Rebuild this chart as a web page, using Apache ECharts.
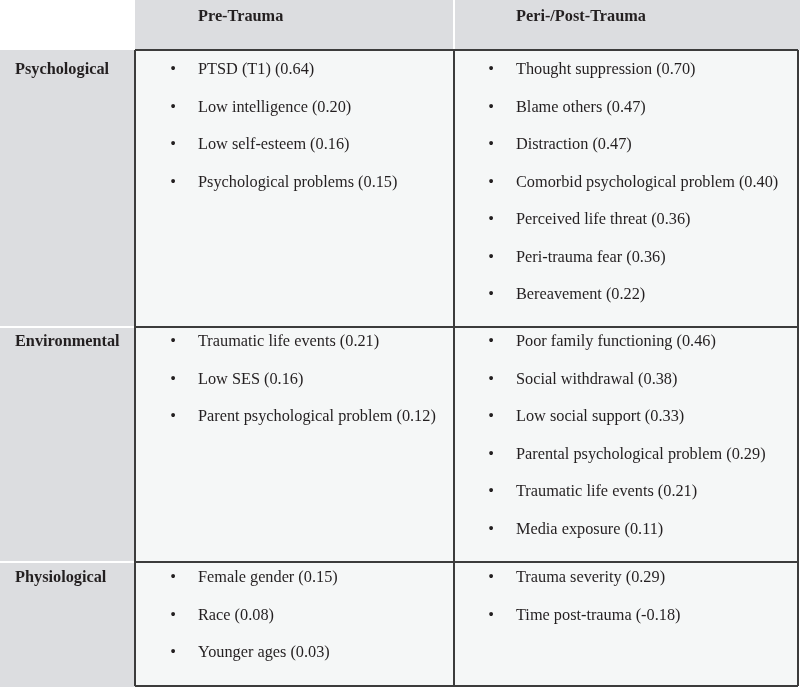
<!DOCTYPE html>
<html><head><meta charset="utf-8">
<script src="https://cdn.jsdelivr.net/npm/echarts@6/dist/echarts.min.js"></script>
<style>html,body{margin:0;padding:0;background:#fff}#c{width:800px;height:687px}</style>
</head><body><div id="c"></div>
<script>
// ---- data ----
const columnHeaders = ['Pre-Trauma', 'Peri-/Post-Trauma'];
const domains = ['Psychological', 'Environmental', 'Physiological'];

const prePsychological = [['PTSD (T1)', 0.64], ['Low intelligence', 0.20], ['Low self-esteem', 0.16], ['Psychological problems', 0.15]];
const periPsychological = [['Thought suppression', 0.70], ['Blame others', 0.47], ['Distraction', 0.47], ['Comorbid psychological problem', 0.40], ['Perceived life threat', 0.36], ['Peri-trauma fear', 0.36], ['Bereavement', 0.22]];
const preEnvironmental = [['Traumatic life events', 0.21], ['Low SES', 0.16], ['Parent psychological problem', 0.12]];
const periEnvironmental = [['Poor family functioning', 0.46], ['Social withdrawal', 0.38], ['Low social support', 0.33], ['Parental psychological problem', 0.29], ['Traumatic life events', 0.21], ['Media exposure', 0.11]];
const prePhysiological = [['Female gender', 0.15], ['Race', 0.08], ['Younger ages', 0.03]];
const periPhysiological = [['Trauma severity', 0.29], ['Time post-trauma', -0.18]];

const cells = [
  [prePsychological, periPsychological],
  [preEnvironmental, periEnvironmental],
  [prePhysiological, periPhysiological]
];

// ---- layout (pixel-space of a hidden value axis) ----
const colEdges = [135, 454, 798];
const rowEdges = [50, 327, 562, 686];
const firstLine = [70, 342, 578];
const lineGap = 37.5;
const bulletX = [173, 491];
const textX = [198, 516];

const FONT = '"Liberation Serif", "Times New Roman", serif';
const FS = '16.3px ';
const TEXT = '#231f20';
const GRAY = '#dcdde0';
const CELL = '#f5f7f7';
const LINE = '#3c3c3c';

function fmt(v) { return '(' + v.toFixed(2) + ')'; }

const itemData = [];
cells.forEach((row, r) => row.forEach((list, c) => list.forEach((it, i) => {
  itemData.push([c, r, i, it[0] + ' ' + fmt(it[1])]);
})));
const domainData = domains.map((d, r) => [r, d]);
const headerData = columnHeaders.map((h, c) => [c, h]);

const chart = echarts.init(document.getElementById('c'), null, {renderer: 'canvas'});
chart.setOption({
  animation: false,
  backgroundColor: '#ffffff',
  grid: {left: 0, right: 0, top: 0, bottom: 0},
  xAxis: {type: 'value', min: 0, max: 800, show: false},
  yAxis: {type: 'value', min: 0, max: 687, inverse: true, show: false},
  series: [
    { // backgrounds and borders
      type: 'custom', data: [[0]], silent: true,
      renderItem: function (params, api) {
        const P = (x, y) => api.coord([x, y]);
        const rect = (x0, y0, x1, y1, fill) => {
          const a = P(x0, y0), b = P(x1, y1);
          return {type: 'rect', shape: {x: a[0], y: a[1], width: b[0] - a[0], height: b[1] - a[1]}, style: {fill: fill}};
        };
        const line = (x0, y0, x1, y1, color, w) => {
          const a = P(x0, y0), b = P(x1, y1);
          return {type: 'line', shape: {x1: a[0], y1: a[1], x2: b[0], y2: b[1]}, style: {stroke: color, lineWidth: w}};
        };
        const ch = [];
        ch.push(rect(colEdges[0], 0, 800, rowEdges[0], GRAY));
        ch.push(rect(0, rowEdges[0], colEdges[0], 687, GRAY));
        ch.push(rect(colEdges[0], rowEdges[0], colEdges[2], rowEdges[3], CELL));
        ch.push(line(colEdges[1], 0, colEdges[1], rowEdges[0], '#ffffff', 2));
        ch.push(line(0, rowEdges[1], colEdges[0], rowEdges[1], '#ffffff', 2));
        ch.push(line(0, rowEdges[2], colEdges[0], rowEdges[2], '#ffffff', 2));
        rowEdges.forEach(y => ch.push(line(colEdges[0], y, colEdges[2], y, LINE, 2)));
        colEdges.forEach(x => ch.push(line(x, rowEdges[0], x, rowEdges[3], LINE, 2)));
        return {type: 'group', children: ch};
      }
    },
    { // column headers
      type: 'custom', data: headerData, silent: true,
      renderItem: function (params, api) {
        const c = api.value(0);
        const p = api.coord([textX[c], 17]);
        return {type: 'text', style: {x: p[0], y: p[1], text: headerData[params.dataIndex][1], fill: TEXT,
          font: 'bold ' + FS + FONT, textAlign: 'left', textVerticalAlign: 'middle'}};
      }
    },
    { // row labels
      type: 'custom', data: domainData, silent: true,
      renderItem: function (params, api) {
        const r = api.value(0);
        const p = api.coord([15, firstLine[r]]);
        return {type: 'text', style: {x: p[0], y: p[1], text: domainData[params.dataIndex][1], fill: TEXT,
          font: 'bold ' + FS + FONT, textAlign: 'left', textVerticalAlign: 'middle'}};
      }
    },
    { // bulleted items
      type: 'custom', data: itemData, silent: true,
      renderItem: function (params, api) {
        const c = api.value(0), r = api.value(1), i = api.value(2);
        const y = firstLine[r] + i * lineGap;
        const b = api.coord([bulletX[c], y]);
        const t = api.coord([textX[c], y]);
        return {type: 'group', children: [
          {type: 'text', style: {x: b[0], y: b[1], text: '\u2022', fill: TEXT, font: FS + FONT, textAlign: 'center', textVerticalAlign: 'middle'}},
          {type: 'text', style: {x: t[0], y: t[1], text: itemData[params.dataIndex][3], fill: TEXT, font: FS + FONT, textAlign: 'left', textVerticalAlign: 'middle'}}
        ]};
      }
    }
  ]
});
</script></body></html>
